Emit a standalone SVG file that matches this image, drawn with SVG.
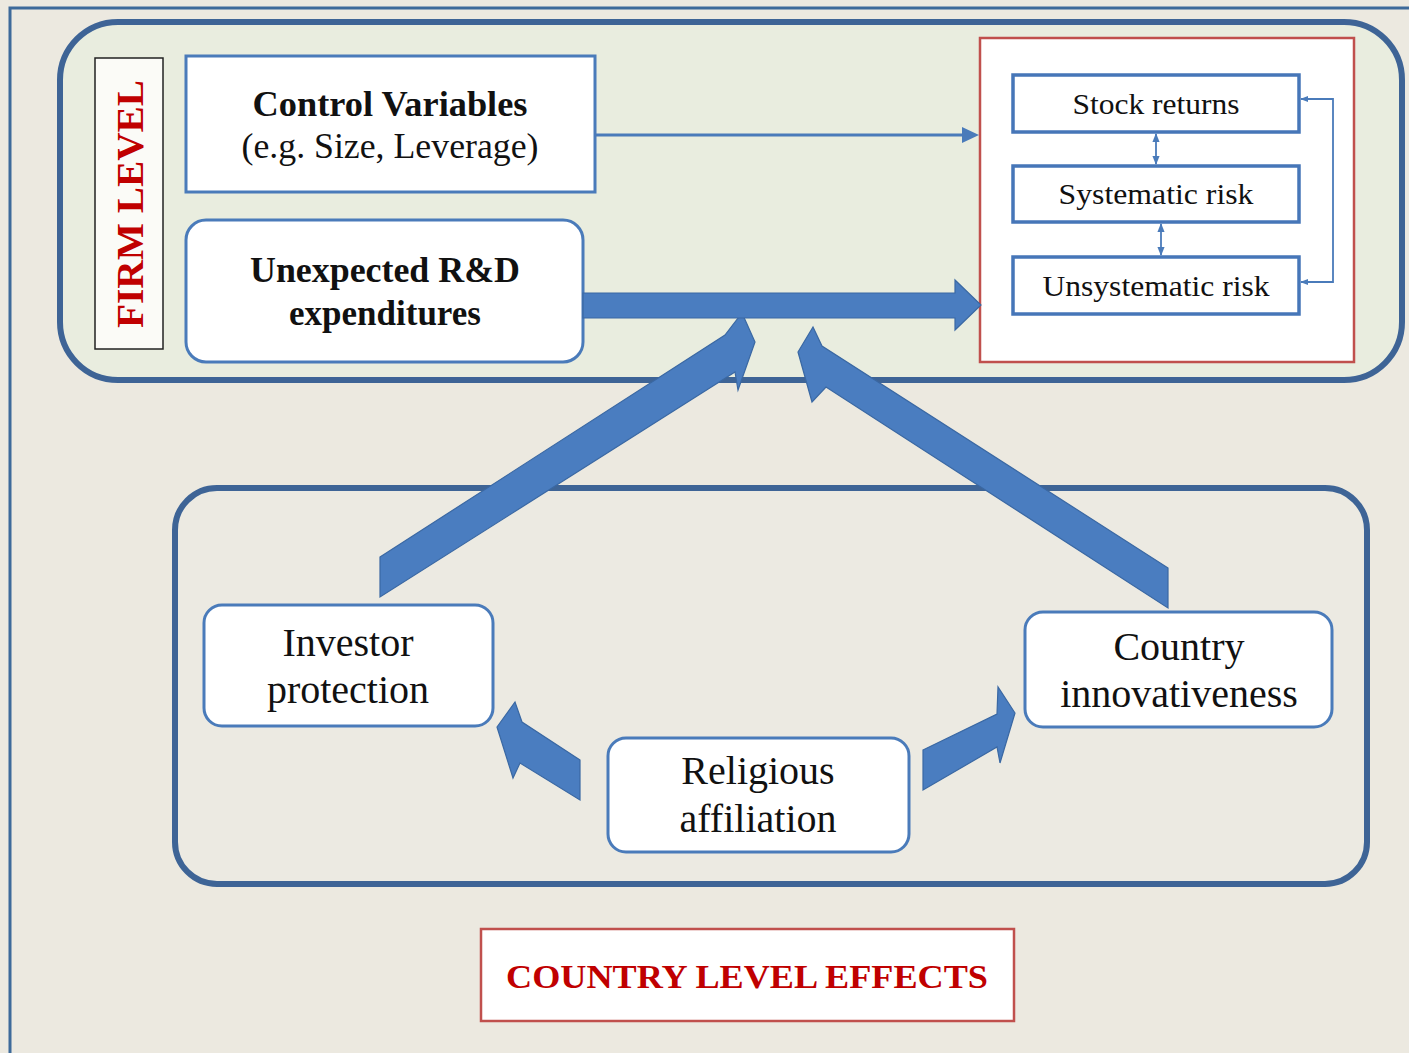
<svg xmlns="http://www.w3.org/2000/svg" width="1409" height="1053" viewBox="0 0 1409 1053">
<defs>
<style>
.panel{stroke:#3E6496;stroke-width:6;}
.node{fill:#FFFFFF;stroke:#4A7BBA;stroke-width:3;}
.inner{fill:#FFFFFF;stroke:#4676B8;stroke-width:3.5;}
.redbox{fill:#FFFFFF;stroke:#C0504D;stroke-width:2.5;}
.blk{fill:#4A7DC0;stroke:#3A68A3;stroke-width:1.2;stroke-linejoin:miter;}
.thin{fill:none;stroke:#4A7BBA;stroke-width:1.8;}
.mid{fill:none;stroke:#4A7BBA;stroke-width:3;}
.serif{font-family:"Liberation Serif","Times New Roman",serif;fill:#111111;text-anchor:middle;}
.b{font-weight:bold;}
.red{fill:#C00000;font-weight:bold;}
</style>
<marker id="ah" viewBox="0 0 10 10" refX="9" refY="5" markerWidth="9" markerHeight="9" orient="auto-start-reverse" markerUnits="userSpaceOnUse">
<path d="M0,1 L10,5 L0,9 z" fill="#4A7BBA"/>
</marker>
<marker id="ahs" viewBox="0 0 10 10" refX="9" refY="5" markerWidth="8" markerHeight="8" orient="auto-start-reverse" markerUnits="userSpaceOnUse">
<path d="M0,1 L10,5 L0,9 z" fill="#4A7BBA"/>
</marker>
</defs>

<rect x="0" y="0" width="1409" height="1053" fill="#ECE9E0"/>
<path d="M10,1053 L10,8 L1409,8" fill="none" stroke="#3D6A9A" stroke-width="3"/>

<g id="firm-panel">
<rect class="panel" x="60" y="22" width="1342" height="358" rx="58" ry="58" fill="#E9EDDF"/>
</g>
<g id="country-panel">
<rect class="panel" x="175" y="488" width="1192" height="396" rx="42" ry="42" fill="#ECEAE2"/>
</g>

<g id="firm-level-label">
<rect x="95" y="58" width="68" height="291" fill="#FBFBF7" stroke="#222222" stroke-width="1.5"/>
<text class="serif red" font-size="38" transform="translate(143,204) rotate(-90)" textLength="248" lengthAdjust="spacingAndGlyphs">FIRM LEVEL</text>
</g>

<g id="control-variables">
<rect class="node" x="186" y="56" width="409" height="136"/>
<text class="serif b" font-size="35" x="390" y="116" textLength="275" lengthAdjust="spacingAndGlyphs">Control Variables</text>
<text class="serif" font-size="35" x="390" y="158" textLength="297" lengthAdjust="spacingAndGlyphs">(e.g. Size, Leverage)</text>
</g>

<g id="rd-expenditures">
<rect class="node" x="186" y="220" width="397" height="142" rx="20" ry="20"/>
<text class="serif b" font-size="35" x="385" y="282" textLength="270" lengthAdjust="spacingAndGlyphs">Unexpected R&amp;D</text>
<text class="serif b" font-size="35" x="385" y="325">expenditures</text>
</g>

<g id="outcomes">
<rect class="redbox" x="980" y="38" width="374" height="324"/>
</g>
<g id="stock-returns">
<rect class="inner" x="1013" y="75" width="286" height="57"/>
<text class="serif" font-size="30" x="1156" y="114" textLength="167" lengthAdjust="spacingAndGlyphs">Stock returns</text>
</g>
<g id="systematic-risk">
<rect class="inner" x="1013" y="166" width="286" height="56"/>
<text class="serif" font-size="30" x="1156" y="204" textLength="195" lengthAdjust="spacingAndGlyphs">Systematic risk</text>
</g>
<g id="unsystematic-risk">
<rect class="inner" x="1013" y="257" width="286" height="57"/>
<text class="serif" font-size="30" x="1156" y="296" textLength="227" lengthAdjust="spacingAndGlyphs">Unsystematic risk</text>
</g>

<g id="investor-protection">
<rect class="node" x="204" y="605" width="289" height="121" rx="18" ry="18"/>
<text class="serif" font-size="40" x="348" y="656">Investor</text>
<text class="serif" font-size="40" x="348" y="703">protection</text>
</g>
<g id="country-innovativeness">
<rect class="node" x="1025" y="612" width="307" height="115" rx="18" ry="18"/>
<text class="serif" font-size="40" x="1179" y="660">Country</text>
<text class="serif" font-size="40" x="1179" y="707">innovativeness</text>
</g>
<g id="religious-affiliation">
<rect class="node" x="608" y="738" width="301" height="114" rx="18" ry="18"/>
<text class="serif" font-size="40" x="758" y="784">Religious</text>
<text class="serif" font-size="40" x="758" y="832">affiliation</text>
</g>

<g id="country-level-label">
<rect class="redbox" x="481" y="929" width="533" height="92" stroke-width="3"/>
<text class="serif red" font-size="34" x="747" y="988" textLength="482" lengthAdjust="spacingAndGlyphs">COUNTRY LEVEL EFFECTS</text>
</g>

<g id="connectors">
<line class="mid" x1="595" y1="135" x2="966" y2="135"/>
<polygon points="962,127 979,135 962,143" fill="#4A7BBA"/>
<polygon class="blk" points="380,557 725,335 742,313 755,342 738,390 735,372 380,597"/>
<polygon class="blk" points="1168,568 822,346 813,327 798,352 812,402 826,387 1168,608"/>
<polygon class="blk" points="583,293 955,293 955,280 981,305 955,330 955,318 583,318"/>
<polygon class="blk" points="580,760 522,722 515,702 497,727 513,778 520,763 580,800"/>
<polygon class="blk" points="923,750 997,714 998,687 1015,713 1000,763 997,747 923,790"/>
<line class="thin" x1="1156" y1="134" x2="1156" y2="164" marker-start="url(#ah)" marker-end="url(#ah)"/>
<line class="thin" x1="1161" y1="224" x2="1161" y2="255" marker-start="url(#ah)" marker-end="url(#ah)"/>
<polyline class="thin" points="1301,99 1333,99 1333,282 1301,282" marker-start="url(#ahs)" marker-end="url(#ahs)"/>
</g>
</svg>
